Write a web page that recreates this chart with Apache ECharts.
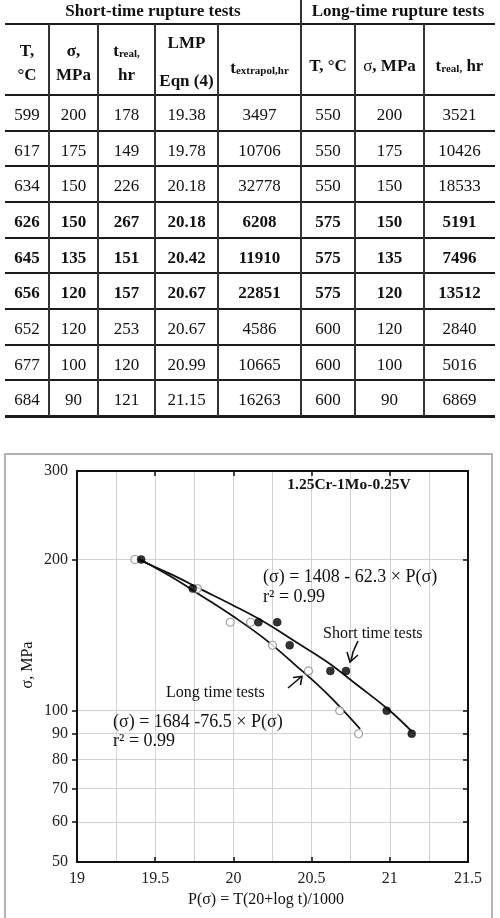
<!DOCTYPE html>
<html>
<head>
<meta charset="utf-8">
<script src="https://cdn.jsdelivr.net/npm/echarts@6/dist/echarts.min.js"></script>
<style>
  html, body { margin: 0; padding: 0; background: #fff; }
  #chart { position: absolute; left: 0; top: 0; width: 500px; height: 918px; }
  #tbl { position: absolute; left: 0; top: 0; width: 500px; height: 420px; z-index: 2;
         font-family: "Liberation Serif", "Times New Roman", serif; color: #111; }
  #tbl .ln { position: absolute; background: #1c1c1c; }
  #tbl .cell { position: absolute; text-align: center; font-size: 17px; white-space: nowrap; }
  #tbl .b { font-weight: bold; }
  #tbl sub { font-size: 11px; vertical-align: 0; position: relative; top: 1px; }
</style>
</head>
<body>
<div id="tbl"></div>
<div id="chart"></div>
<script>
// table values
var shortT     = [599, 617, 634, 626, 645, 656, 652, 677, 684];
var shortSigma = [200, 175, 150, 150, 135, 120, 120, 100, 90];
var shortTreal = [178, 149, 226, 267, 151, 157, 253, 120, 121];
var shortLmp   = ['19.38', '19.78', '20.18', '20.18', '20.42', '20.67', '20.67', '20.99', '21.15'];
var shortText  = [3497, 10706, 32778, 6208, 11910, 22851, 4586, 10665, 16263];
var longT      = [550, 550, 550, 575, 575, 575, 600, 600, 600];
var longSigma  = [200, 175, 150, 150, 135, 120, 120, 100, 90];
var longTreal  = [3521, 10426, 18533, 5191, 7496, 13512, 2840, 5016, 6869];
var boldRows   = [3, 4, 5];

// chart values
var shortP = [19.41, 19.74, 20.16, 20.28, 20.36, 20.62, 20.72, 20.98, 21.14];
var shortS = [200, 175, 150, 150, 135, 120, 120, 100, 90];
var longP  = [19.37, 19.77, 19.98, 20.11, 20.25, 20.48, 20.68, 20.80];
var longS  = [200, 175, 150, 150, 135, 120, 100, 90];
// trend curves
var shortFitP = [19.39, 19.6, 19.8, 20.0, 20.2, 20.4, 20.6, 20.8, 21.0, 21.14];
var shortFitS = [200, 187, 174, 162, 150, 137, 125, 112, 100, 91];
var longFitP  = [19.39, 19.6, 19.8, 20.0, 20.2, 20.4, 20.6, 20.81];
var longFitS  = [201, 185, 169, 154, 139, 123, 108, 92];
var yTicks = [50, 60, 70, 80, 90, 100, 200, 300];
var yGrid  = [60, 70, 80, 90, 100, 200];

// ---- table ----
var tbl = document.getElementById('tbl');
var colX = [5, 49, 98, 155, 218, 301, 355, 424, 495];
var rowY = [24, 95, 130.7, 166.4, 202, 237.7, 273.4, 309, 344.7, 380.4, 416];

function put(cls, css, html) {
  var d = document.createElement('div');
  d.className = cls;
  d.style.cssText = css;
  if (html != null) d.innerHTML = html;
  tbl.appendChild(d);
}

rowY.forEach(function (y, i) {
  var h = i === rowY.length - 1 ? 3 : 2;
  put('ln', 'left:5px;width:490px;top:' + (y - h / 2) + 'px;height:' + h + 'px;');
});
colX.slice(1, -1).forEach(function (x) {
  var top = x === 301 ? 0 : 24;
  put('ln', 'left:' + (x - 1) + 'px;width:2px;top:' + top + 'px;height:' + (416 - top) + 'px;background:#333;');
});

function cell(c0, c1, yTop, yBot, html, bold, extra) {
  var w = colX[c1] - colX[c0];
  put('cell' + (bold ? ' b' : ''),
      'left:' + colX[c0] + 'px;width:' + w + 'px;top:' + yTop + 'px;height:' + (yBot - yTop) +
      'px;line-height:' + (yBot - yTop) + 'px;' + (extra || ''), html);
}

cell(0, 5, 0, 22, 'Short-time rupture tests', true);
cell(5, 8, 0, 22, 'Long-time rupture tests', true);

function twoLine(c, a, b, y1, y2) {
  var css = 'left:' + colX[c] + 'px;width:' + (colX[c + 1] - colX[c]) + 'px;line-height:20px;height:20px;';
  put('cell b', css + 'top:' + (y1 - 10) + 'px;', a);
  put('cell b', css + 'top:' + (y2 - 10) + 'px;', b);
}
twoLine(0, 'T,', '&deg;C', 51, 75);
twoLine(1, '&sigma;,', 'MPa', 51, 75);
twoLine(2, 't<sub>real,</sub>', 'hr', 51, 75);
twoLine(3, 'LMP', 'Eqn (4)', 43, 81);
cell(4, 5, 24, 95, 't<sub>extrapol,hr</sub>', true, 'padding-top:8px;box-sizing:border-box;');
cell(5, 6, 24, 95, 'T, &deg;C', true, 'padding-top:6px;box-sizing:border-box;');
cell(6, 7, 24, 95, '<span style="font-weight:normal">&sigma;</span>, MPa', true, 'padding-top:6px;box-sizing:border-box;');
cell(7, 8, 24, 95, 't<sub>real,</sub> hr', true, 'padding-top:6px;box-sizing:border-box;');

for (var r = 0; r < shortT.length; r++) {
  var vals = [shortT[r], shortSigma[r], shortTreal[r], shortLmp[r], shortText[r], longT[r], longSigma[r], longTreal[r]];
  var bold = boldRows.indexOf(r) >= 0;
  for (var c = 0; c < vals.length; c++) {
    cell(c, c + 1, rowY[r + 1] + 2, rowY[r + 2] + 2, String(vals[c]), bold);
  }
}

// ---- chart ----
var serif = '"Liberation Serif", "Times New Roman", serif';
function pairs(xs, ys) { return xs.map(function (x, i) { return [x, ys[i]]; }); }
var gridLine = { color: '#d2d2d2', width: 1 };
var axisLn = { show: true, onZero: false, lineStyle: { color: '#111', width: 2 } };
var tickLn = { color: '#111', width: 1.5 };

var chart = echarts.init(document.getElementById('chart'));
var option = {
  animation: false,
  grid: { left: 77, top: 471, right: 32, bottom: 56 },
  xAxis: [{
    type: 'value', min: 19, max: 21.5, interval: 0.5, position: 'bottom',
    axisLine: axisLn,
    axisTick: { show: true, inside: true, length: 5, lineStyle: tickLn },
    axisLabel: { color: '#222', fontFamily: serif, fontSize: 16, margin: 9 },
    splitLine: { show: true, lineStyle: gridLine },
    minorTick: { show: false, splitNumber: 2 },
    minorSplitLine: { show: true, lineStyle: gridLine }
  }, {
    type: 'value', min: 19, max: 21.5, interval: 0.5, position: 'top',
    axisLine: axisLn,
    axisTick: { show: true, inside: true, length: 5, lineStyle: tickLn },
    axisLabel: { show: false },
    splitLine: { show: false }
  }],
  yAxis: [{
    type: 'log', logBase: 10, min: 50, max: 300, position: 'left',
    axisLine: axisLn,
    axisTick: { show: true, inside: false, length: 5, customValues: yGrid, lineStyle: tickLn },
    axisLabel: { customValues: yTicks, color: '#222', fontFamily: serif, fontSize: 16, margin: 9 },
    splitLine: { show: true, lineStyle: gridLine }
  }, {
    type: 'log', logBase: 10, min: 50, max: 300, position: 'right',
    axisLine: axisLn,
    axisTick: { show: true, inside: true, length: 5, customValues: yGrid, lineStyle: tickLn },
    axisLabel: { show: false },
    splitLine: { show: false }
  }],
  series: [{
    name: 'Long time fit', type: 'line', data: pairs(longFitP, longFitS),
    showSymbol: false, smooth: 0.4, lineStyle: { color: '#111', width: 1.8 }, z: 3
  }, {
    name: 'Short time fit', type: 'line', data: pairs(shortFitP, shortFitS),
    showSymbol: false, smooth: 0.4, lineStyle: { color: '#111', width: 1.8 }, z: 3
  }, {
    name: 'Long time tests', type: 'scatter', data: pairs(longP, longS),
    symbol: 'circle', symbolSize: 8,
    itemStyle: { color: '#fff', borderColor: '#8a8a8a', borderWidth: 1.2 }, z: 4
  }, {
    name: 'Short time tests', type: 'scatter', data: pairs(shortP, shortS),
    symbol: 'circle', symbolSize: 8,
    itemStyle: { color: '#000', borderColor: '#000', borderWidth: 0.5 }, z: 5
  }],
  graphic: [
    { type: 'rect', shape: { x: 5, y: 454, width: 487, height: 470 },
      style: { fill: 'none', stroke: '#9a9a9a', lineWidth: 1.5 }, silent: true, z: -10 },
    { type: 'text', x: 349, y: 485, z: 10,
      style: { text: '1.25Cr-1Mo-0.25V', font: 'bold 15.5px ' + serif, fill: '#111', align: 'center', verticalAlign: 'middle' } },
    { type: 'text', x: 263, y: 577, z: 10,
      style: { text: '(\u03c3) = 1408 - 62.3 \u00d7 P(\u03c3)', font: '18px ' + serif, fill: '#111', verticalAlign: 'middle' } },
    { type: 'text', x: 263, y: 597, z: 10,
      style: { text: 'r\u00b2 = 0.99', font: '18px ' + serif, fill: '#111', verticalAlign: 'middle' } },
    { type: 'text', x: 323, y: 634, z: 10,
      style: { text: 'Short time tests', font: '16px ' + serif, fill: '#111', verticalAlign: 'middle' } },
    { type: 'text', x: 166, y: 693, z: 10,
      style: { text: 'Long time tests', font: '16px ' + serif, fill: '#111', verticalAlign: 'middle' } },
    { type: 'text', x: 113, y: 722, z: 10,
      style: { text: '(\u03c3) = 1684 -76.5 \u00d7 P(\u03c3)', font: '18px ' + serif, fill: '#111', verticalAlign: 'middle' } },
    { type: 'text', x: 113, y: 741, z: 10,
      style: { text: 'r\u00b2 = 0.99', font: '18px ' + serif, fill: '#111', verticalAlign: 'middle' } },
    { type: 'text', x: 266, y: 900, z: 10,
      style: { text: 'P(\u03c3) = T(20+log t)/1000', font: '16px ' + serif, fill: '#111', align: 'center', verticalAlign: 'middle' } },
    { type: 'text', x: 28, y: 665, rotation: Math.PI / 2, z: 10,
      style: { text: '\u03c3, MPa', font: '16px ' + serif, fill: '#111', align: 'center', verticalAlign: 'middle' } },
    // arrows
    { type: 'polyline', z: 10, shape: { points: [[358, 641], [353, 652], [351, 661]] },
      style: { stroke: '#111', lineWidth: 1.6, fill: 'none' } },
    { type: 'polyline', z: 10, shape: { points: [[347, 652], [350, 662], [358, 655]] },
      style: { stroke: '#111', lineWidth: 1.6, fill: 'none' } },
    { type: 'line', z: 10, shape: { x1: 288, y1: 688, x2: 301, y2: 677 },
      style: { stroke: '#111', lineWidth: 1.6 } },
    { type: 'polyline', z: 10, shape: { points: [[293, 677.5], [302, 676.5], [300.5, 685]] },
      style: { stroke: '#111', lineWidth: 1.6, fill: 'none' } }
  ]
};
chart.setOption(option);
</script>
</body>
</html>
